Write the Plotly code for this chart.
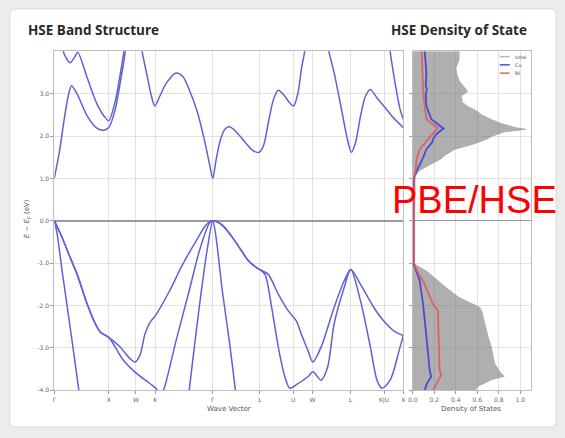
import plotly.graph_objects as go

# ---------------- data ----------------
# high-symmetry path (FCC), cumulative k distance
k_hs = [0, 1.0, 1.5, 1.854, 2.914, 3.780, 4.392, 4.746, 5.453, 6.065, 6.419]
k_labels = ['Γ', 'X', 'W', 'K', 'Γ', 'L', 'U', 'W', 'L', 'K|U', 'X']

# valence bands
v1_k = [0, 0.12, 0.27, 0.42, 0.605, 0.727, 0.848, 1.0, 1.21, 1.36, 1.48, 1.575, 1.666, 1.757, 1.877,
        2.12, 2.36, 2.6, 2.79, 2.914, 3.089, 3.33, 3.574, 3.725, 3.78, 3.937, 4.119, 4.3, 4.451,
        4.542, 4.664, 4.755, 4.906, 5.147, 5.33, 5.453, 5.632, 5.874, 6.056, 6.237, 6.419]
v1_E = [0, -0.33, -0.8, -1.27, -1.97, -2.36, -2.63, -2.75, -2.98, -3.21, -3.33, -3.17, -2.67, -2.4, -2.2,
        -1.65, -1.03, -0.49, -0.1, 0, -0.1, -0.49, -0.95, -1.11, -1.15, -1.27, -1.73, -2.12, -2.36,
        -2.67, -3.06, -3.33, -2.98, -2.04, -1.42, -1.15, -1.5, -2.04, -2.36, -2.59, -2.71]

v2_k = [0, 0.12, 0.27, 0.42, 0.605, 0.727, 0.848, 1.0, 1.27, 1.51, 1.757, 1.877, 1.95, 2.02,
        2.24, 2.48, 2.665, 2.85, 2.914, 3.089, 3.33, 3.574, 3.725, 3.78, 3.876, 3.997, 4.119, 4.24,
        4.33, 4.482, 4.664, 4.755, 4.906, 5.027, 5.147, 5.33, 5.453, 5.632, 5.814, 5.935, 6.026,
        6.177, 6.359, 6.419]
v2_E = [0, -0.33, -0.8, -1.27, -1.97, -2.36, -2.63, -2.75, -3.29, -3.6, -3.84, -3.97, -4.12, -3.95,
        -2.82, -1.65, -0.72, -0.06, 0, -0.1, -0.49, -0.95, -1.11, -1.15, -1.27, -2.04, -2.98, -3.68,
        -3.95, -3.84, -3.68, -3.56, -3.76, -3.45, -2.43, -1.58, -1.15, -1.89, -2.98, -3.76, -3.95,
        -3.76, -2.98, -2.71]

v3_k = [0, 0.05, 0.15, 0.30, 0.45, 0.50, None, 2.44, 2.48, 2.665, 2.816, 2.914, 2.97, 3.089, 3.22, 3.33, 3.37]
v3_E = [0, -0.3, -1.25, -2.6, -4.0, -4.5, None, -4.5, -4.0, -2.04, -0.64, 0, -0.35, -1.65, -2.85, -4.0, -4.4]

# conduction bands
c1_k = [0, 0.091, 0.18, 0.254, 0.315, 0.424, 0.605, 0.787, 0.908, 1.0, 1.12, 1.21, 1.30, 1.33]
c1_E = [1.01, 1.62, 2.39, 2.94, 3.19, 2.98, 2.47, 2.18, 2.14, 2.2, 2.63, 3.25, 3.95, 4.3]

c2_k = [0.12, 0.15, 0.19, 0.29, 0.375, 0.43, 0.605, 0.787, 0.939, 1.0, 1.12, 1.21, 1.28, 1.31]
c2_E = [4.3, 4.07, 3.91, 3.73, 3.87, 3.98, 3.37, 2.75, 2.43, 2.36, 2.82, 3.45, 4.0, 4.3]

c3_k = [1.59, 1.61, 1.695, 1.786, 1.848, 1.939, 2.06, 2.24, 2.36, 2.48, 2.634, 2.756, 2.847, 2.914,
        2.967, 3.058, 3.149, 3.22, 3.33, 3.512, 3.66, 3.77, 3.846, 3.937, 4.03, 4.119, 4.24, 4.33,
        4.40, 4.482, 4.542, 4.603, 4.63]
c3_E = [4.3, 4.03, 3.49, 2.94, 2.71, 2.94, 3.25, 3.49, 3.41, 3.1, 2.55, 1.93, 1.38, 1.0,
        1.38, 1.93, 2.18, 2.22, 2.12, 1.85, 1.65, 1.62, 1.77, 2.32, 2.86, 3.08, 2.94, 2.78,
        2.71, 3.02, 3.56, 3.99, 4.3]

c4_k = [5.02, 5.045, 5.147, 5.27, 5.39, 5.463, 5.541, 5.632, 5.723, 5.814, 5.935, 6.087, 6.237, 6.419]
c4_E = [4.3, 4.03, 3.49, 2.71, 1.93, 1.62, 1.85, 2.47, 2.94, 3.1, 2.9, 2.67, 2.43, 2.2]

c5_k = [6.16, 6.177, 6.237, 6.3, 6.36, 6.419]
c5_E = [4.3, 4.0, 3.49, 3.02, 2.63, 2.39]

bands = [(v1_k, v1_E), (v2_k, v2_E), (v3_k, v3_E), (c1_k, c1_E), (c2_k, c2_E),
         (c3_k, c3_E), (c4_k, c4_E), (c5_k, c5_E)]

# density of states
E_total = [-4.0, -3.9, -3.75, -3.67, -3.6, -3.37, -2.98, -2.74, -2.43, -2.12, -2.04, -1.81, -1.58,
           -1.19, -1.0, 1.0, 1.05, 1.19, 1.3, 1.46, 1.55, 1.69, 1.8, 1.93, 2.0, 2.1, 2.16, 2.2, 2.3,
           2.4, 2.5, 2.6, 2.7, 2.8, 2.95, 3.05, 3.15, 3.3, 3.45, 3.6, 3.8, 4.0]
dos_total = [0.58, 0.61, 0.73, 0.85, 0.82, 0.76, 0.73, 0.70, 0.67, 0.64, 0.62, 0.43, 0.31,
             0.13, 0.0, 0.0, 0.02, 0.064, 0.14, 0.26, 0.30, 0.39, 0.55, 0.69, 0.74, 0.85, 1.05, 0.95, 0.82,
             0.72, 0.64, 0.59, 0.51, 0.46, 0.45, 0.51, 0.48, 0.43, 0.41, 0.40, 0.43, 0.43]

E_cu = [-4.0, -3.84, -3.68, -3.52, -2.74, -2.12, -1.97, -1.42, -1.2, -1.0, 0.0, 1.0, 1.15, 1.46,
        1.69, 1.85, 1.93, 2.05, 2.18, 2.3, 2.4, 2.7, 3.0, 3.1, 3.2, 3.49, 4.0]
dos_cu = [0.11, 0.13, 0.17, 0.156, 0.126, 0.105, 0.095, 0.064, 0.03, 0.005, 0.005, 0.01, 0.03, 0.09,
          0.126, 0.18, 0.187, 0.22, 0.285, 0.22, 0.172, 0.126, 0.12, 0.13, 0.12, 0.126, 0.11]

E_ni = [-4.0, -3.84, -3.64, -3.52, -2.74, -2.12, -1.97, -1.42, -1.2, -1.0, 0.0, 1.0, 1.2, 1.46,
        1.69, 1.93, 2.05, 2.2, 2.3, 2.4, 2.7, 3.1, 3.5, 4.0]
dos_ni = [0.187, 0.218, 0.263, 0.248, 0.242, 0.233, 0.187, 0.095, 0.04, 0.012, 0.012, 0.015, 0.025, 0.035,
          0.064, 0.14, 0.18, 0.233, 0.17, 0.126, 0.11, 0.095, 0.09, 0.08]

y_ticks = [-4, -3, -2, -1, 0, 1, 2, 3]
y_ticktext = ['-4.0', '-3.0', '-2.0', '-1.0', '0.0', '1.0', '2.0', '3.0']
dos_ticks = [0, 0.2, 0.4, 0.6, 0.8, 1.0]
dos_ticktext = ['0.0', '0.2', '0.4', '0.6', '0.8', '1.0']

# ---------------- layout helpers ----------------
W, H = 565, 438
def px(x):
    return x / W
def py(y):
    return 1 - y / H

BAND_COLOR = '#6060d8'
fig = go.Figure()

for bk, be in bands:
    fig.add_trace(go.Scatter(x=bk, y=be, mode='lines', line=dict(color=BAND_COLOR, width=1.5, shape='spline', smoothing=0.8),
                             connectgaps=False, showlegend=False, hoverinfo='skip', xaxis='x', yaxis='y'))

fig.add_trace(go.Scatter(x=dos_total, y=E_total, mode='lines', fill='tozerox',
                         fillcolor='rgba(110,110,110,0.55)', line=dict(color='rgba(160,160,160,0.9)', width=0.8),
                         showlegend=False, xaxis='x2', yaxis='y2'))
fig.add_trace(go.Scatter(x=dos_cu, y=E_cu, mode='lines', line=dict(color='rgba(55,55,225,0.85)', width=1.8),
                         showlegend=False, xaxis='x2', yaxis='y2'))
fig.add_trace(go.Scatter(x=dos_ni, y=E_ni, mode='lines', line=dict(color='rgba(230,85,85,0.85)', width=1.8),
                         showlegend=False, xaxis='x2', yaxis='y2'))

axis_common = dict(showline=True, mirror=True, linecolor='#bdbdbd', linewidth=1,
                   gridcolor='#e2e2e2', gridwidth=1, ticks='outside', ticklen=3, tickcolor='#999',
                   tickfont=dict(family='DejaVu Sans', size=6, color='#666'))

fig.update_layout(
    width=W, height=H, margin=dict(l=0, r=0, t=0, b=0),
    paper_bgcolor='#ececec', plot_bgcolor='white',
    xaxis=dict(domain=[px(50), px(403.3)], range=[0, k_hs[-1]], tickvals=k_hs, ticktext=k_labels,
               zeroline=False, anchor='y', **axis_common),
    yaxis=dict(domain=[py(393), py(51.7)], range=[-4, 4], tickvals=y_ticks, ticktext=y_ticktext,
               zeroline=True, zerolinecolor='#9a9a9a', zerolinewidth=1.6, anchor='x', **axis_common),
    xaxis2=dict(domain=[px(413), px(532.7)], range=[0, 1.1], tickvals=dos_ticks, ticktext=dos_ticktext,
                zeroline=False, anchor='y2', **axis_common),
    yaxis2=dict(domain=[py(393), py(51.7)], range=[-4, 4], tickvals=y_ticks, showticklabels=False,
                zeroline=True, zerolinecolor='#9a9a9a', zerolinewidth=1.2, anchor='x2', **axis_common),
)

# card background with rounded corners
r = 6
x0, x1, y0, y1 = 5, 558, 9, 430
path = (f"M {px(x0+r)} {py(y0)} L {px(x1-r)} {py(y0)} Q {px(x1)} {py(y0)} {px(x1)} {py(y0+r)} "
        f"L {px(x1)} {py(y1-r)} Q {px(x1)} {py(y1)} {px(x1-r)} {py(y1)} "
        f"L {px(x0+r)} {py(y1)} Q {px(x0)} {py(y1)} {px(x0)} {py(y1-r)} "
        f"L {px(x0)} {py(y0+r)} Q {px(x0)} {py(y0)} {px(x0+r)} {py(y0)} Z")
fig.add_shape(type='path', path=path, xref='paper', yref='paper', fillcolor='white',
              line=dict(color='#dadada', width=1), layer='below')

def note(text, x, y, font, xanchor='center', yanchor='middle', **kw):
    fig.add_annotation(text=text, x=px(x), y=py(y), xref='paper', yref='paper', xanchor=xanchor,
                       yanchor=yanchor, showarrow=False, font=font, **kw)

# manual legend
legend_items = [('total', 'rgba(185,185,185,1)'), ('Cu', 'rgba(55,55,225,0.9)'), ('Ni', 'rgba(230,85,85,0.9)')]
for i, (name, col) in enumerate(legend_items):
    yy = 57 + i * 8.3
    fig.add_shape(type='line', xref='paper', yref='paper', x0=px(501), x1=px(511), y0=py(yy), y1=py(yy),
                  line=dict(color=col, width=1.5))
    note(name, 514, yy, dict(family='DejaVu Sans', size=5, color='#555'), xanchor='left')

title_font = dict(family='Open Sans', size=13.5, color='#2a2a2a')
note('<b>HSE Band Structure</b>', 21, 30, title_font, xanchor='left')
note('<b>HSE Density of State</b>', 531, 30, title_font, xanchor='right')

label_font = dict(family='DejaVu Sans', size=7, color='#555')
note('Wave Vector', 227, 412, label_font)
note('Density of States', 472, 412, label_font)
note('<i>E</i> − <i>E</i><sub>F</sub> (eV)', 23, 220, label_font, textangle=-90)

note('PBE/HSE', 475, 201, dict(family='Liberation Sans', size=38, color='#ff0000'))

fig.write_html('out.html')
